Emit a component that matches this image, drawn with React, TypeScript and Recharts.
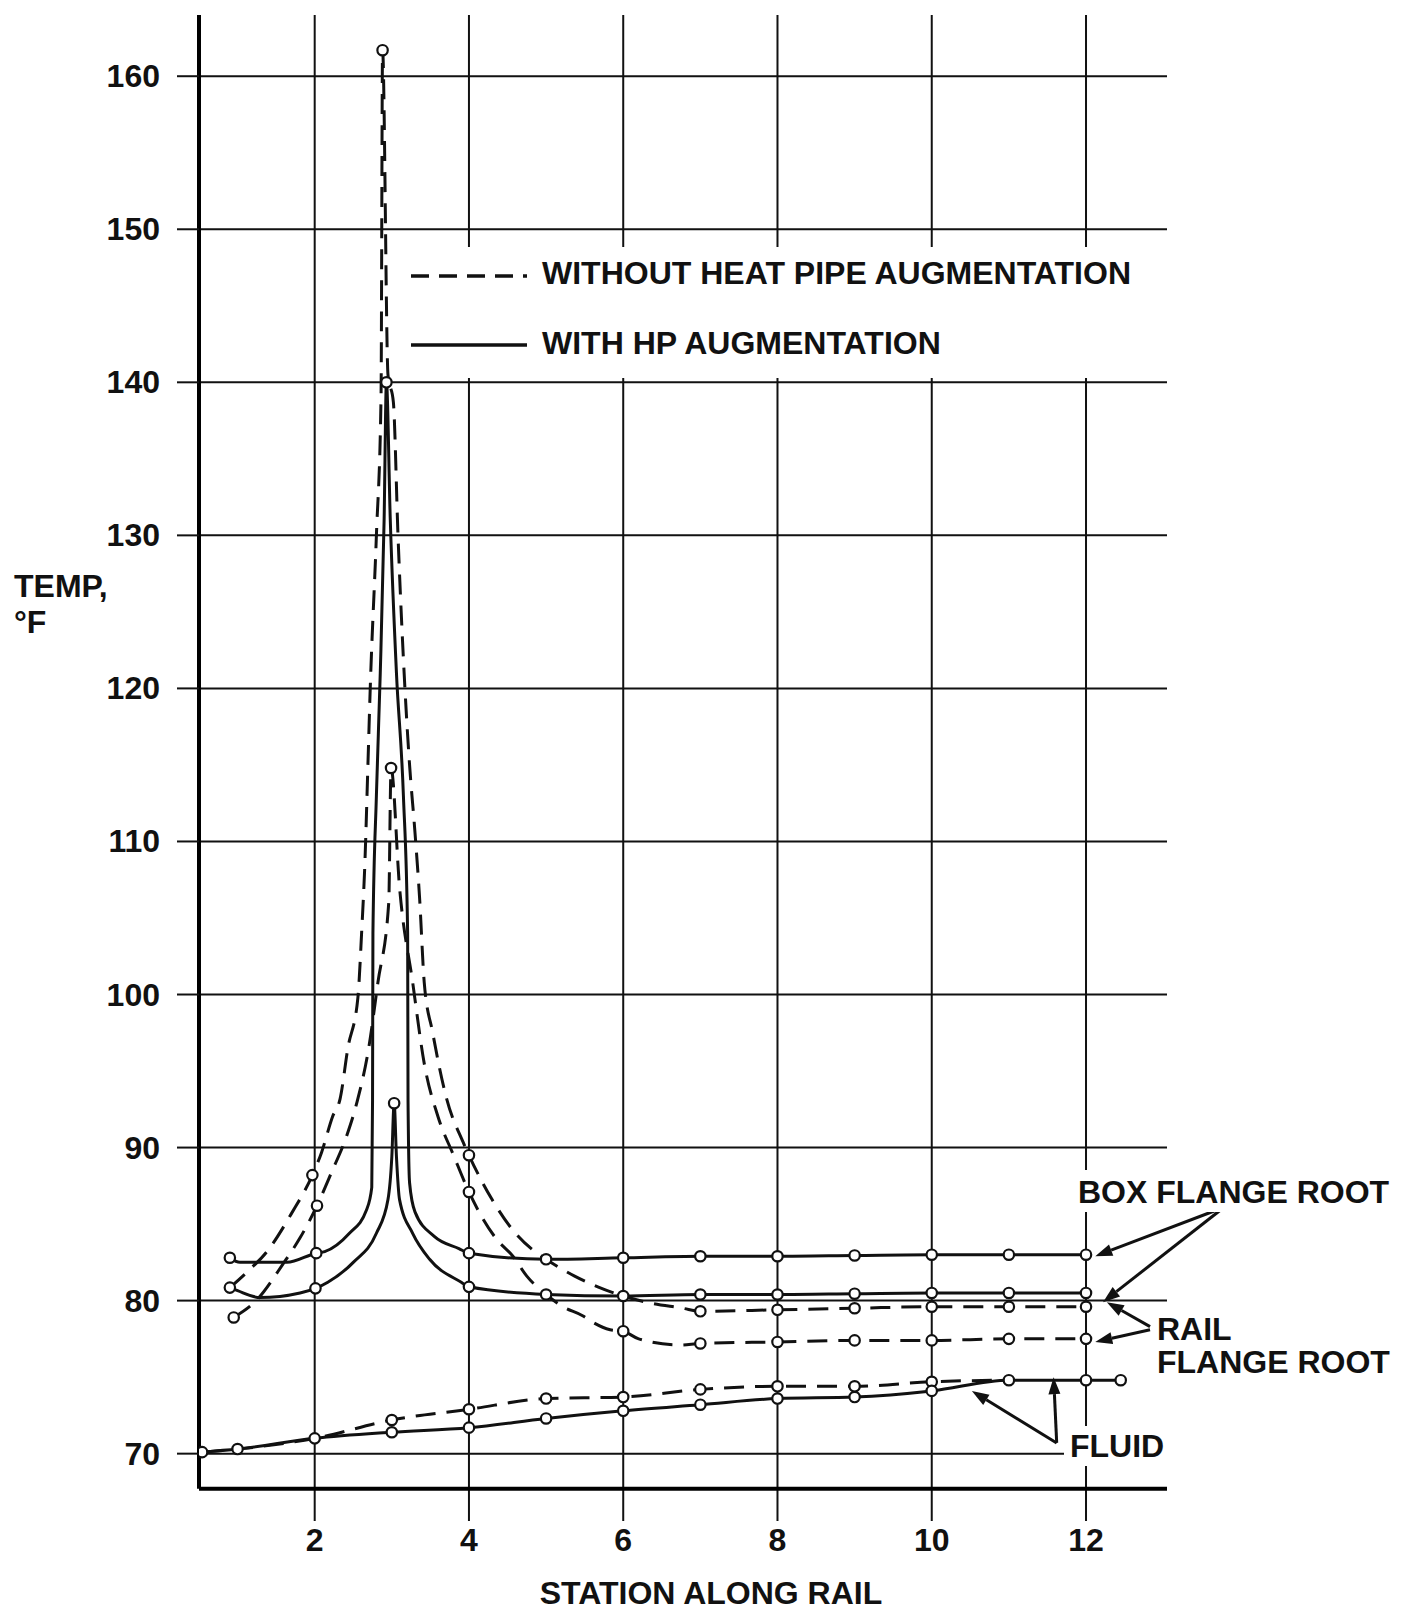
import React from "react";
import { Line, LineChart, ReferenceLine, XAxis, YAxis } from "recharts";

// [station, temp °F, 1 = plotted test point / 0 = point]
type Pt = [number, number, number];

const stationTicks = [2, 4, 6, 8, 10, 12];
const tempTicks = [70, 80, 90, 100, 110, 120, 130, 140, 150, 160];

const boxFlangeWithHP: Pt[] = [
  [0.9, 82.8, 1], [1.03, 82.5, 0], [1.64, 82.5, 0], [2.02, 83.1, 1], [2.13, 83.2, 0],
  [2.45, 84.4, 0], [2.67, 85.9, 0], [2.74, 87.4, 0], [2.75, 93.1, 0], [2.755, 104, 0],
  [2.8, 113, 0], [2.85, 121, 0], [2.9, 131, 0], [2.93, 140, 1], [2.98, 131, 0],
  [3.06, 121, 0], [3.15, 113, 0], [3.205, 104, 0], [3.21, 93.1, 0], [3.23, 87.7, 0],
  [3.3, 85.8, 0], [3.55, 84.2, 0], [3.87, 83.4, 0], [4, 83.1, 1],
  [5, 82.7, 1], [6, 82.8, 1], [7, 82.9, 1], [8, 82.9, 1], [9, 82.95, 1],
  [10, 83.0, 1], [11, 83.0, 1], [12, 83.0, 1],
];

const railFlangeWithHP: Pt[] = [
  [0.9, 80.85, 1], [1.0, 80.65, 0], [1.29, 80.2, 0], [1.81, 80.5, 0], [2.01, 80.8, 1],
  [2.17, 81.2, 0], [2.5, 82.5, 0], [2.8, 84.4, 0], [2.95, 86.6, 0], [3.0, 89.4, 0],
  [3.03, 92.9, 1], [3.06, 89.4, 0], [3.1, 86.6, 0], [3.27, 84.4, 0], [3.49, 82.7, 0],
  [3.9, 81.2, 0], [4, 80.9, 1], [5, 80.4, 1], [6, 80.3, 1], [7, 80.4, 1],
  [8, 80.4, 1], [9, 80.45, 1], [10, 80.5, 1], [11, 80.5, 1], [12, 80.5, 1],
];

const boxFlangeNoHP: Pt[] = [
  [0.9, 80.85, 0], [1.13, 81.9, 0], [1.38, 83.2, 0], [1.7, 85.7, 0], [1.97, 88.2, 1],
  [2.09, 89.7, 0], [2.23, 92.0, 0], [2.33, 93.2, 0], [2.43, 96.5, 0], [2.56, 99.8, 0],
  [2.61, 104.2, 0], [2.65, 108.5, 0], [2.69, 115, 0], [2.72, 120, 0], [2.8, 130, 0],
  [2.86, 139, 0], [2.88, 161.7, 1], [2.95, 140.5, 0], [3.02, 138.7, 0], [3.08, 130, 0],
  [3.17, 120, 0], [3.23, 115, 0], [3.3, 110.6, 0], [3.36, 106.3, 0], [3.42, 100.8, 0],
  [3.53, 97.5, 0], [3.71, 93.2, 0], [3.92, 90.4, 0], [4, 89.5, 1], [4.3, 86.6, 0],
  [4.57, 84.6, 0], [4.83, 83.3, 0], [5, 82.7, 0], [5.37, 81.6, 0], [5.67, 80.9, 0],
  [6, 80.3, 0], [6.3, 79.9, 0], [6.77, 79.5, 0], [7, 79.3, 1], [8, 79.4, 1],
  [9, 79.5, 1], [10, 79.6, 1], [11, 79.6, 1], [12, 79.6, 1],
];

const railFlangeNoHP: Pt[] = [
  [0.95, 78.9, 1], [1.26, 80.1, 0], [1.59, 82.4, 0], [1.81, 84.1, 0], [2.03, 86.2, 1],
  [2.22, 88.4, 0], [2.41, 90.7, 0], [2.55, 93.0, 0], [2.7, 96.5, 0], [2.82, 100.8, 0],
  [2.96, 106, 0], [2.99, 114.8, 1], [3.1, 107, 0], [3.27, 100.8, 0], [3.42, 95.5, 0],
  [3.6, 92.0, 0], [3.8, 89.5, 0], [4, 87.1, 1], [4.36, 84.0, 0], [4.57, 82.9, 0],
  [4.75, 81.6, 0], [5, 80.4, 0], [5.22, 79.6, 0], [5.48, 79.0, 0], [5.6, 78.6, 0],
  [5.83, 78.1, 0], [6, 78.0, 1], [6.2, 77.5, 0], [6.73, 77.1, 0], [7, 77.2, 1],
  [8, 77.3, 1], [9, 77.4, 1], [10, 77.4, 1], [11, 77.5, 1], [12, 77.5, 1],
];

const fluidWithHP: Pt[] = [
  [0.54, 70.1, 1], [1, 70.3, 1], [2, 71.0, 1], [3, 71.4, 1], [4, 71.7, 1],
  [5, 72.3, 1], [6, 72.8, 1], [7, 73.2, 1], [8, 73.6, 1], [9, 73.7, 1],
  [10, 74.1, 1], [11, 74.8, 1], [12, 74.8, 1], [12.45, 74.8, 1],
];

const fluidNoHP: Pt[] = [
  [0.54, 70.1, 0], [1, 70.3, 0], [2, 71.0, 0], [3, 72.2, 1], [4, 72.9, 1],
  [5, 73.6, 1], [6, 73.7, 1], [7, 74.2, 1], [8, 74.4, 1], [9, 74.4, 1],
  [10, 74.7, 1], [11, 74.8, 0],
];

// pointer arrows of the callouts, [from station, from temp, to station, to temp]
const pointerArrows = [
  [13.79, 86.1, 12.12, 82.9],
  [13.79, 86.1, 12.22, 79.9],
  [12.83, 78.3, 12.27, 79.9],
  [12.83, 78.1, 12.12, 77.3],
  [11.62, 70.7, 10.52, 74.1],
  [11.62, 70.7, 11.58, 75.0],
];

const toRows = (pts: Pt[]) => pts.map(([station, temp, plotted]) => ({ station, temp, plotted: plotted === 1 }));

const series = [
  { key: "fluidNoHP", rows: toRows(fluidNoHP), dashed: true },
  { key: "fluidWithHP", rows: toRows(fluidWithHP), dashed: false },
  { key: "railNoHP", rows: toRows(railFlangeNoHP), dashed: true },
  { key: "boxNoHP", rows: toRows(boxFlangeNoHP), dashed: true },
  { key: "railWithHP", rows: toRows(railFlangeWithHP), dashed: false },
  { key: "boxWithHP", rows: toRows(boxFlangeWithHP), dashed: false },
];

const INK = "#111";
const FONT = "'Liberation Sans', Arial, sans-serif";
const DASH = "20 11";

function StationDot(props: any) {
  const { cx, cy, payload, index } = props;
  if (!payload || !payload.plotted || cx == null || cy == null) return <g key={`n-${index}`} />;
  return <circle key={`d-${index}`} cx={cx} cy={cy} r={5.2} fill="#fff" stroke={INK} strokeWidth={2.2} />;
}

function XTick(props: any) {
  const { x, y, payload } = props;
  return (
    <text x={x} y={y + 22} textAnchor="middle" fontFamily={FONT} fontWeight={700} fontSize={32} fill={INK}>
      {payload.value}
    </text>
  );
}

function YTick(props: any) {
  const { x, y, payload } = props;
  return (
    <text x={x} y={y + 11} textAnchor="end" fontFamily={FONT} fontWeight={700} fontSize={32} fill={INK}>
      {payload.value}
    </text>
  );
}

function ArrowShape(props: any) {
  const { x1, y1, x2, y2 } = props;
  if ([x1, y1, x2, y2].some((v) => v == null || Number.isNaN(v))) return <g />;
  const ang = Math.atan2(y2 - y1, x2 - x1);
  const len = 17;
  const half = 6;
  const bx = x2 - len * Math.cos(ang);
  const by = y2 - len * Math.sin(ang);
  const px = -Math.sin(ang) * half;
  const py = Math.cos(ang) * half;
  return (
    <g>
      <line x1={x1} y1={y1} x2={bx} y2={by} stroke={INK} strokeWidth={3} />
      <polygon points={`${x2},${y2} ${bx + px},${by + py} ${bx - px},${by - py}`} fill={INK} />
    </g>
  );
}

const textStyle = { fontFamily: FONT, fontWeight: 700, fontSize: 32, fill: INK } as const;

export default function App() {
  return (
    <div style={{ position: "absolute", left: 0, top: 0, width: 1408, height: 1613, background: "#fff" }}>
      <LineChart width={1408} height={1613} margin={{ top: 15, right: 241, bottom: 52, left: 139 }}>
        <XAxis
          type="number"
          dataKey="station"
          domain={[0.5, 13.05]}
          ticks={stationTicks}
          interval={0}
          height={40}
          axisLine={false}
          tickLine={false}
          tick={XTick}
          allowDataOverflow
        />
        <YAxis
          type="number"
          domain={[65.6, 164]}
          ticks={tempTicks}
          interval={0}
          width={60}
          axisLine={false}
          tickLine={{ stroke: INK, strokeWidth: 2 }}
          tickSize={22}
          tickMargin={17}
          tick={YTick}
          allowDataOverflow
        />
        {/* grid drawn from the tick lists, no frame around the plot */}
        {tempTicks.map((t) => (
          <ReferenceLine key={`h-${t}`} y={t} stroke={INK} strokeWidth={2} />
        ))}
        {stationTicks.map((s) => (
          <ReferenceLine key={`v-${s}`} x={s} stroke={INK} strokeWidth={2} />
        ))}
        <ReferenceLine segment={[{ x: 0.5, y: 67.7 }, { x: 0.5, y: 164 }]} stroke="#000" strokeWidth={4} ifOverflow="visible" />
        <ReferenceLine segment={[{ x: 0.5, y: 67.7 }, { x: 13.05, y: 67.7 }]} stroke="#000" strokeWidth={4} ifOverflow="visible" />
        {series.map((s) => (
          <Line
            key={s.key}
            data={s.rows}
            dataKey="temp"
            type="monotoneX"
            stroke={INK}
            strokeWidth={3}
            strokeDasharray={s.dashed ? DASH : undefined}
            dot={StationDot}
            activeDot={false}
            isAnimationActive={false}
            legendType="none"
          />
        ))}
        {pointerArrows.map(([sx, sy, ex, ey], i) => (
          <ReferenceLine
            key={`arrow-${i}`}
            segment={[{ x: sx, y: sy }, { x: ex, y: ey }]}
            ifOverflow="visible"
            shape={ArrowShape}
          />
        ))}
      </LineChart>

      {/* legend box, it hides the grid behind it like the original */}
      <div style={{ position: "absolute", left: 406, top: 247, width: 761, height: 131, background: "#fff" }}>
        <svg width={761} height={131}>
          <line x1={5} y1={29} x2={121} y2={29} stroke={INK} strokeWidth={3.5} strokeDasharray="18 10" />
          <text x={136} y={37} {...textStyle}>WITHOUT HEAT PIPE AUGMENTATION</text>
          <line x1={5} y1={98} x2={121} y2={98} stroke={INK} strokeWidth={3.5} />
          <text x={136} y={107} {...textStyle}>WITH HP AUGMENTATION</text>
        </svg>
      </div>

      <svg width={1408} height={1613} style={{ position: "absolute", left: 0, top: 0, pointerEvents: "none" }}>
        <text x={14} y={597} {...textStyle}>TEMP,</text>
        <text x={14} y={633} {...textStyle}>°F</text>
        <text x={711} y={1604} textAnchor="middle" {...textStyle}>STATION ALONG RAIL</text>
        <rect x={1072} y={1170} width={326} height={42} fill="#fff" />
        <text x={1078} y={1203} {...textStyle}>BOX FLANGE ROOT</text>
        <text x={1157} y={1340} {...textStyle}>RAIL</text>
        <text x={1157} y={1373} {...textStyle}>FLANGE ROOT</text>
        <rect x={1064} y={1426} width={110} height={40} fill="#fff" />
        <text x={1070} y={1457} {...textStyle}>FLUID</text>
      </svg>
    </div>
  );
}
